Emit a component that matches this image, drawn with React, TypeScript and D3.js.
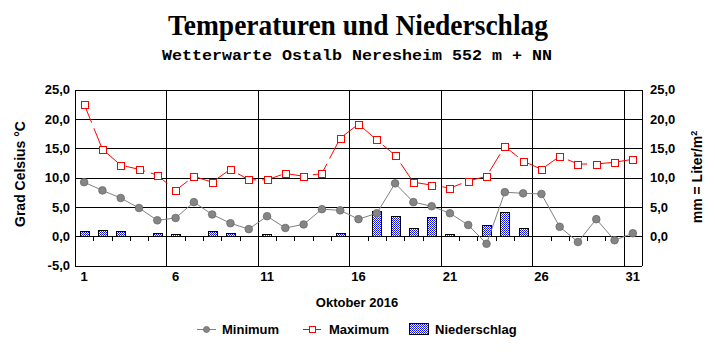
import React from "react";
import * as d3 from "d3";

// Oktober 2016, Tageswerte
const days = d3.range(1, 32);
const minTemp = [9.2, 7.8, 6.5, 4.8, 2.7, 3.1, 5.8, 3.7, 2.2, 1.2, 3.4, 1.4, 2.0, 4.6, 4.4, 2.9, 3.9, 9.0, 5.8, 5.1, 3.9, 1.9, -1.3, 7.5, 7.3, 7.2, 1.6, -1.0, 2.9, -0.7, 0.5];
const maxTemp = [22.5, 14.8, 12.1, 11.4, 10.4, 7.8, 10.2, 9.2, 11.4, 9.6, 9.6, 10.7, 10.2, 10.7, 16.7, 19.1, 16.4, 13.8, 9.2, 8.7, 8.2, 9.4, 10.2, 15.3, 12.8, 11.4, 13.6, 12.3, 12.3, 12.6, 13.1];
const precip = [0.8, 1.0, 0.8, 0, 0.6, 0.3, 0, 0.85, 0.6, 0, 0.3, 0, 0, 0, 0.5, 0, 4.3, 3.45, 1.4, 3.3, 0.3, 0, 1.9, 4.1, 1.35, 0, 0, 0, 0, 0, 0];
const yTicks = [25, 20, 15, 10, 5, 0, -5];
const yTicksRight = [25, 20, 15, 10, 5, 0];
const xLabels = [1, 6, 11, 16, 21, 26, 31];

const W = 715;
const H = 352;
const plot = { left: 75, right: 642, top: 89.5, bottom: 265.5 };
const font = "'Liberation Sans', Arial, sans-serif";

export default function App() {
    const x = d3.scaleBand<number>().domain(days).range([plot.left, plot.right]).padding(0);
    const y = d3.scaleLinear().domain([-5, 25]).range([plot.bottom, plot.top]);
    const cx = (d: number) => (x(d) as number) + x.bandwidth() / 2;
    const fmt = (v: number) => v.toFixed(1).replace(".", ",");
    const barW = x.bandwidth() * 0.5;

    const minLine = d3.line<number>().x((_, i) => cx(days[i])).y(v => y(v));
    const maxLine = d3.line<number>().x((_, i) => cx(days[i])).y(v => y(v));

    const y0 = Math.round(y(0)) + 0.5;
    const gridX = days.filter(d => d > 1 && (d - 1) % 5 === 0).map(d => Math.round(x(d) as number) + 0.5);

    return (
        <svg width={W} height={H} style={{ position: "absolute", left: 0, top: 0, background: "#fff" }}>
            <defs>
                <pattern id="dots" width="2" height="2" patternUnits="userSpaceOnUse">
                    <rect width="2" height="2" fill="#ffffff" />
                    <rect x="0" y="0" width="1" height="1" fill="#0000ff" />
                    <rect x="1" y="1" width="1" height="1" fill="#3333ff" />
                </pattern>
            </defs>

            {/* titles */}
            <text x={358} y={35} textAnchor="middle" fontFamily="'Liberation Serif', 'Times New Roman', serif"
                  fontWeight="bold" fontSize={29} textLength={380} lengthAdjust="spacingAndGlyphs">
                Temperaturen und Niederschlag
            </text>
            <text x={357} y={60} textAnchor="middle" fontFamily="'Liberation Mono', 'Courier New', monospace"
                  fontWeight="bold" fontSize={15} textLength={390} lengthAdjust="spacingAndGlyphs">
                Wetterwarte Ostalb Neresheim 552 m + NN
            </text>

            {/* grid */}
            <g shapeRendering="crispEdges" stroke="#000" strokeWidth={1}>
                {yTicks.map(t => (
                    <line key={t} x1={plot.left} x2={plot.right} y1={Math.round(y(t)) + 0.5} y2={Math.round(y(t)) + 0.5} />
                ))}
                {gridX.map(gx => (
                    <line key={gx} x1={gx} x2={gx} y1={plot.top} y2={plot.bottom} />
                ))}
                <line x1={plot.left + 0.5} x2={plot.left + 0.5} y1={plot.top} y2={plot.bottom} />
                <line x1={plot.right + 0.5} x2={plot.right + 0.5} y1={plot.top} y2={plot.bottom} />
                {days.slice(1).map(d => (
                    <line key={d} x1={Math.round(x(d) as number) + 0.5} x2={Math.round(x(d) as number) + 0.5} y1={y0} y2={y0 + 4} />
                ))}
            </g>

            {/* precipitation bars */}
            <g shapeRendering="crispEdges">
                {precip.map((v, i) => v > 0 ? (
                    <rect key={i} x={Math.round(cx(days[i]) - barW / 2) + 0.5} y={Math.round(y(v)) + 0.5}
                          width={Math.round(barW)} height={y0 - (Math.round(y(v)) + 0.5)}
                          fill="url(#dots)" stroke="#000" strokeWidth={1} />
                ) : null)}
            </g>

            {/* minimum */}
            <path d={minLine(minTemp) || ""} fill="none" stroke="#808080" strokeWidth={1} />
            {minTemp.map((v, i) => (
                <circle key={i} cx={cx(days[i])} cy={y(v)} r={3.8} fill="#858585" stroke="#6a6a6a" strokeWidth={0.8} />
            ))}

            {/* maximum */}
            <path d={maxLine(maxTemp) || ""} fill="none" stroke="#ff0000" strokeWidth={1} strokeDasharray="20 6" />
            {maxTemp.map((v, i) => (
                <rect key={i} x={Math.round(cx(days[i]) - 3.5) + 0.5} y={Math.round(y(v) - 3.5) + 0.5} width={7} height={7}
                      fill="#fff" stroke="#ff0000" strokeWidth={1} shapeRendering="crispEdges" />
            ))}

            {/* axis labels */}
            <g fontFamily={font} fontWeight="bold" fontSize={13} fill="#000">
                {yTicks.map(t => (
                    <text key={t} x={70} y={y(t)} dy="0.36em" textAnchor="end">{fmt(t)}</text>
                ))}
                {yTicksRight.map(t => (
                    <text key={t} x={650} y={y(t)} dy="0.36em" textAnchor="start">{fmt(t)}</text>
                ))}
                {xLabels.map(d => (
                    <text key={d} x={cx(d)} y={281} textAnchor="middle">{d}</text>
                ))}
                <text transform="translate(25,174) rotate(-90)" textAnchor="middle" fontSize={14}>Grad Celsius °C</text>
                <text transform="translate(702,177) rotate(-90)" textAnchor="middle" fontSize={14}>
                    mm = Liter/m<tspan dy="-5" fontSize={9}>2</tspan>
                </text>
                <text x={357} y={307} textAnchor="middle">Oktober 2016</text>
            </g>

            {/* legend */}
            <g fontFamily={font} fontWeight="bold" fontSize={13}>
                <line x1={197} x2={216} y1={329.5} y2={329.5} stroke="#808080" />
                <circle cx={206.5} cy={329.5} r={3} fill="#858585" stroke="#6a6a6a" strokeWidth={0.8} />
                <text x={222} y={334}>Minimum</text>
                <line x1={303} x2={321} y1={329.5} y2={329.5} stroke="#ff0000" />
                <rect x={309.5} y={326.5} width={6} height={6} fill="#fff" stroke="#ff0000" shapeRendering="crispEdges" />
                <text x={329} y={334}>Maximum</text>
                <rect x={409.5} y={323.5} width={19} height={11} fill="url(#dots)" stroke="#000" shapeRendering="crispEdges" />
                <text x={435} y={334}>Niederschlag</text>
            </g>
        </svg>
    );
}
